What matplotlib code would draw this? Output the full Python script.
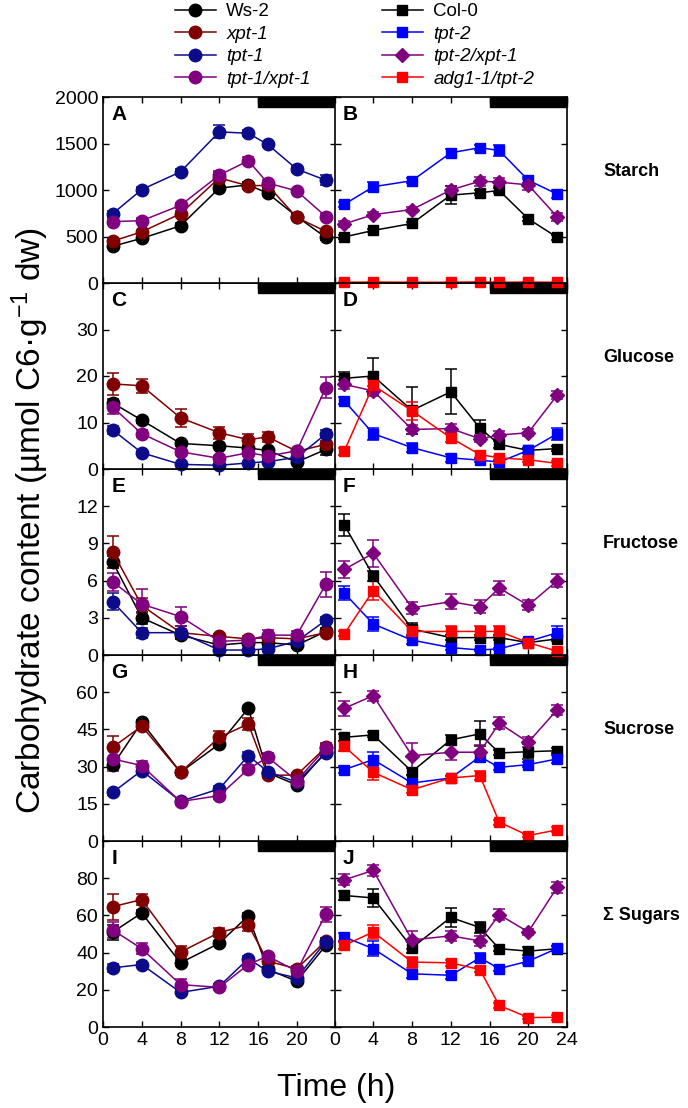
import matplotlib
matplotlib.use("Agg")
import matplotlib.pyplot as plt
from matplotlib.patches import Rectangle
from matplotlib.transforms import blended_transform_factory

plt.rcParams['font.family'] = ['Liberation Sans', 'DejaVu Sans']
plt.rcParams['mathtext.fontset'] = 'custom'
plt.rcParams['mathtext.rm'] = 'Liberation Sans'
plt.rcParams['mathtext.it'] = 'Liberation Sans:italic'

# sampling times (h) and the dark period
hours = [1, 4, 8, 12, 15, 17, 20, 23]
dark = (16, 24)

left_lines = ["Ws-2", "xpt-1", "tpt-1", "tpt-1/xpt-1"]
right_lines = ["Col-0", "tpt-2", "tpt-2/xpt-1", "adg1-1/tpt-2"]

# starch (A, B)
starch_left = {
    "Ws-2":        [395, 480, 615, 1020, 1055, 965, 715, 490],
    "xpt-1":       [450, 550, 745, 1130, 1045, 1050, 705, 555],
    "tpt-1":       [745, 1005, 1195, 1625, 1610, 1490, 1225, 1105],
    "tpt-1/xpt-1": [660, 670, 835, 1160, 1315, 1075, 990, 715],
}
starch_left_err = {
    "Ws-2":        [20, 20, 25, 40, 30, 30, 25, 25],
    "xpt-1":       [25, 25, 30, 60, 30, 40, 30, 30],
    "tpt-1":       [30, 30, 30, 70, 30, 30, 30, 55],
    "tpt-1/xpt-1": [30, 25, 30, 40, 40, 30, 25, 30],
}
starch_right = {
    "Col-0":        [495, 565, 640, 945, 970, 995, 690, 490],
    "tpt-2":        [845, 1035, 1100, 1400, 1455, 1425, 1105, 955],
    "tpt-2/xpt-1":  [635, 735, 790, 1000, 1095, 1085, 1055, 710],
    "adg1-1/tpt-2": [8, 10, 8, 8, 12, 8, 10, 8],
}
starch_right_err = {
    "Col-0":        [20, 20, 20, 100, 25, 25, 20, 25],
    "tpt-2":        [30, 50, 30, 40, 30, 55, 30, 40],
    "tpt-2/xpt-1":  [30, 30, 30, 40, 50, 40, 60, 40],
    "adg1-1/tpt-2": [3, 3, 3, 3, 3, 3, 3, 3],
}

# glucose (C, D)
glucose_left = {
    "Ws-2":        [14.2, 10.5, 5.5, 5.0, 4.5, 4.0, 1.5, 4.2],
    "xpt-1":       [18.3, 17.9, 11.0, 7.8, 6.3, 6.9, 3.8, 5.3],
    "tpt-1":       [8.4, 3.5, 1.0, 0.8, 1.3, 1.6, 2.5, 7.5],
    "tpt-1/xpt-1": [13.3, 7.6, 3.7, 2.3, 3.5, 2.8, 3.9, 17.5],
}
glucose_left_err = {
    "Ws-2":        [0.8, 0.6, 0.5, 0.5, 0.5, 0.5, 0.4, 1.2],
    "xpt-1":       [2.3, 1.5, 2.0, 1.3, 1.2, 1.0, 0.5, 0.8],
    "tpt-1":       [0.9, 0.4, 0.3, 0.3, 0.3, 0.3, 0.4, 0.8],
    "tpt-1/xpt-1": [1.5, 0.8, 0.6, 0.5, 0.6, 0.5, 0.5, 2.2],
}
glucose_right = {
    "Col-0":        [19.5, 20.0, 12.6, 16.6, 8.8, 5.3, 4.0, 4.4],
    "tpt-2":        [14.7, 7.6, 4.6, 2.4, 1.9, 1.5, 4.0, 7.6],
    "tpt-2/xpt-1":  [18.2, 16.8, 8.5, 8.7, 6.5, 7.3, 7.8, 15.9],
    "adg1-1/tpt-2": [3.8, 18.0, 12.5, 6.7, 3.1, 2.4, 2.0, 1.2],
}
glucose_right_err = {
    "Col-0":        [1.3, 3.8, 5.0, 4.8, 1.8, 0.8, 0.5, 0.6],
    "tpt-2":        [0.8, 1.3, 1.0, 0.8, 0.5, 0.5, 0.6, 1.3],
    "tpt-2/xpt-1":  [1.0, 1.0, 1.0, 1.0, 0.8, 0.9, 0.8, 0.8],
    "adg1-1/tpt-2": [0.8, 1.5, 2.0, 1.0, 0.8, 0.5, 0.5, 0.5],
}

# fructose (E, F)
fructose_left = {
    "Ws-2":        [7.5, 3.0, 1.6, 0.8, 1.0, 1.0, 0.8, 1.9],
    "xpt-1":       [8.3, 4.0, 1.8, 1.5, 1.3, 1.4, 1.3, 1.8],
    "tpt-1":       [4.3, 1.8, 1.8, 0.4, 0.4, 0.5, 1.1, 2.8],
    "tpt-1/xpt-1": [5.9, 4.1, 3.1, 1.1, 1.2, 1.6, 1.6, 5.7],
}
fructose_left_err = {
    "Ws-2":        [0.5, 0.5, 0.3, 0.2, 0.2, 0.2, 0.2, 0.3],
    "xpt-1":       [1.3, 0.6, 0.3, 0.2, 0.2, 0.3, 0.2, 0.2],
    "tpt-1":       [0.7, 0.4, 0.5, 0.1, 0.1, 0.1, 0.2, 0.3],
    "tpt-1/xpt-1": [0.7, 1.2, 0.8, 0.2, 0.2, 0.4, 0.3, 1.0],
}
fructose_right = {
    "Col-0":        [10.5, 6.4, 2.1, 1.4, 1.4, 1.4, 1.0, 1.3],
    "tpt-2":        [5.0, 2.5, 1.2, 0.6, 0.4, 0.5, 1.1, 1.8],
    "tpt-2/xpt-1":  [6.9, 8.2, 3.8, 4.3, 3.9, 5.4, 4.0, 6.0],
    "adg1-1/tpt-2": [1.7, 5.2, 1.9, 1.9, 1.9, 1.9, 1.0, 0.3],
}
fructose_right_err = {
    "Col-0":        [0.9, 0.4, 0.5, 0.2, 0.2, 0.2, 0.2, 0.2],
    "tpt-2":        [0.6, 0.6, 0.3, 0.2, 0.1, 0.1, 0.2, 0.5],
    "tpt-2/xpt-1":  [0.7, 1.1, 0.5, 0.6, 0.5, 0.6, 0.4, 0.5],
    "adg1-1/tpt-2": [0.2, 0.8, 0.4, 0.4, 0.4, 0.4, 0.2, 0.1],
}

# sucrose (G, H)
sucrose_left = {
    "Ws-2":        [30.5, 47.9, 27.7, 39.1, 53.5, 27.5, 22.6, 36.0],
    "xpt-1":       [37.8, 46.3, 27.7, 41.8, 47.2, 26.5, 26.6, 37.8],
    "tpt-1":       [19.6, 28.4, 16.0, 21.0, 34.4, 28.0, 23.7, 35.4],
    "tpt-1/xpt-1": [33.1, 30.4, 15.9, 18.3, 29.0, 33.8, 24.3, 37.4],
}
sucrose_left_err = {
    "Ws-2":        [1.5, 1.0, 1.0, 1.5, 1.0, 1.0, 1.0, 1.0],
    "xpt-1":       [4.5, 1.5, 1.0, 2.5, 2.5, 1.0, 1.0, 1.5],
    "tpt-1":       [1.0, 1.0, 1.0, 1.0, 1.5, 1.0, 1.0, 1.0],
    "tpt-1/xpt-1": [5.0, 2.0, 1.5, 1.5, 1.5, 1.5, 1.0, 2.0],
}
sucrose_right = {
    "Col-0":        [41.8, 42.8, 28.0, 40.8, 43.2, 35.5, 36.0, 36.4],
    "tpt-2":        [28.8, 32.8, 23.4, 25.4, 34.0, 29.7, 30.8, 33.1],
    "tpt-2/xpt-1":  [53.5, 58.6, 34.4, 35.8, 35.8, 47.5, 39.8, 53.0],
    "adg1-1/tpt-2": [38.2, 27.7, 20.7, 25.4, 26.4, 7.6, 2.2, 4.5],
}
sucrose_right_err = {
    "Col-0":        [1.5, 1.0, 1.5, 2.0, 5.0, 1.0, 3.0, 1.0],
    "tpt-2":        [1.5, 3.0, 1.0, 1.0, 2.0, 1.0, 1.0, 1.5],
    "tpt-2/xpt-1":  [3.0, 2.0, 5.0, 3.0, 3.0, 2.5, 2.0, 2.0],
    "adg1-1/tpt-2": [2.0, 3.0, 1.5, 1.0, 2.0, 1.0, 0.5, 1.0],
}

# sum of sugars (I, J)
sugars_left = {
    "Ws-2":        [51.0, 61.3, 34.5, 45.0, 59.8, 31.0, 24.6, 43.9],
    "xpt-1":       [64.7, 68.5, 40.3, 50.8, 54.8, 35.4, 31.3, 46.3],
    "tpt-1":       [31.8, 33.6, 18.6, 21.9, 36.7, 30.0, 26.4, 45.9],
    "tpt-1/xpt-1": [52.2, 42.1, 22.8, 21.3, 33.6, 38.1, 30.0, 60.7],
}
sugars_left_err = {
    "Ws-2":        [4.0, 1.5, 1.5, 1.5, 1.5, 1.0, 1.0, 1.0],
    "xpt-1":       [7.0, 3.0, 3.0, 2.5, 3.0, 1.5, 1.5, 1.5],
    "tpt-1":       [2.0, 1.5, 1.0, 1.0, 1.5, 1.0, 1.0, 2.0],
    "tpt-1/xpt-1": [4.5, 3.0, 3.0, 1.5, 2.0, 1.5, 1.5, 4.0],
}
sugars_right = {
    "Col-0":        [70.7, 69.4, 42.6, 58.9, 53.5, 42.1, 40.8, 42.1],
    "tpt-2":        [48.4, 42.1, 28.6, 27.8, 37.2, 31.4, 35.4, 42.3],
    "tpt-2/xpt-1":  [79.1, 84.2, 46.8, 49.0, 46.3, 60.4, 51.1, 75.2],
    "adg1-1/tpt-2": [43.9, 51.1, 34.9, 34.5, 30.9, 11.6, 5.1, 5.2],
}
sugars_right_err = {
    "Col-0":        [2.5, 5.0, 3.0, 5.0, 3.0, 1.5, 2.0, 1.5],
    "tpt-2":        [2.0, 4.0, 2.0, 2.0, 2.5, 1.5, 1.5, 1.5],
    "tpt-2/xpt-1":  [3.0, 3.0, 5.0, 2.5, 2.5, 3.0, 1.5, 3.0],
    "adg1-1/tpt-2": [2.0, 4.0, 3.0, 1.5, 1.5, 1.5, 1.0, 1.5],
}

row_names = ["Starch", "Glucose", "Fructose", "Sucrose", "\u03a3 Sugars"]
row_ymax = [2000, 40, 15, 75, 100]
row_yticks = [[0, 500, 1000, 1500, 2000], [0, 10, 20, 30], [0, 3, 6, 9, 12],
              [0, 15, 30, 45, 60], [0, 20, 40, 60, 80]]
letters = ["A", "B", "C", "D", "E", "F", "G", "H", "I", "J"]

rows = [
    (starch_left, starch_left_err, starch_right, starch_right_err),
    (glucose_left, glucose_left_err, glucose_right, glucose_right_err),
    (fructose_left, fructose_left_err, fructose_right, fructose_right_err),
    (sucrose_left, sucrose_left_err, sucrose_right, sucrose_right_err),
    (sugars_left, sugars_left_err, sugars_right, sugars_right_err),
]

style = {
    "Ws-2":         ("black", "o", 9),
    "xpt-1":        ("#800000", "o", 9),
    "tpt-1":        ("#0c0c8a", "o", 9),
    "tpt-1/xpt-1":  ("#800080", "o", 9),
    "Col-0":        ("black", "s", 7),
    "tpt-2":        ("#0000ff", "s", 7),
    "tpt-2/xpt-1":  ("#800080", "D", 7),
    "adg1-1/tpt-2": ("#ff0000", "s", 7),
}

fig = plt.figure(figsize=(6.88, 11.08), dpi=100)

W, H = 688.0, 1108.0
top_px, row_px = 97.0, 186.0
lefts = [103.0 / W, 334.5 / W]
width = 232.5 / W

handles = {}
for r, (lmean, lerr, rmean, rerr) in enumerate(rows):
    bottom = 1 - (top_px + row_px * (r + 1)) / H
    for c in range(2):
        ax = fig.add_axes([lefts[c], bottom, width, row_px / H])
        ax.set_zorder(10 - r)
        means = lmean if c == 0 else rmean
        errs = lerr if c == 0 else rerr
        for name in means:
            col, mk, ms = style[name]
            cont = ax.errorbar(hours, means[name], yerr=errs[name], color=col,
                               marker=mk, markersize=ms, lw=1.1, capsize=4,
                               elinewidth=1.1, capthick=1.1, clip_on=False)
            handles[name] = cont[0]
        ax.set_xlim(0, 24)
        ax.set_ylim(0, row_ymax[r])
        ax.set_xticks(range(0, 25, 4))
        ax.set_yticks(row_yticks[r])
        ax.tick_params(direction="in", top=True, right=True, length=4,
                       width=1, labelsize=14)
        for sp in ax.spines.values():
            sp.set_linewidth(1.2)
        if c == 1:
            ax.set_yticklabels([])
        if r < 4:
            ax.set_xticklabels([])
        elif c == 0:
            ax.set_xticklabels(["0", "4", "8", "12", "16", "20", ""])
        tr = blended_transform_factory(ax.transData, ax.transAxes)
        ax.add_patch(Rectangle((dark[0], 0.945), dark[1] - dark[0], 0.055,
                               transform=tr, color="black", zorder=5,
                               clip_on=False))
        ax.text(0.035, 0.955, letters[2 * r + c], transform=ax.transAxes,
                fontsize=15, fontweight="bold", va="top", ha="left")
        if c == 1:
            ax.text(1.155, 0.6, row_names[r], transform=ax.transAxes,
                    fontsize=13, fontweight="bold", va="center", ha="left")

for names, x0 in [(left_lines, 0.254), (right_lines, 0.555)]:
    leg = fig.legend([handles[n] for n in names], names, loc="upper left",
                     bbox_to_anchor=(x0, 0.997), frameon=False, fontsize=13.5,
                     handlelength=2.2, handletextpad=0.55, labelspacing=0.28,
                     borderpad=0, borderaxespad=0)
    for txt in leg.get_texts():
        if txt.get_text() not in ("Ws-2", "Col-0"):
            txt.set_style("italic")

fig.text(0.044, 0.53, "Carbohydrate content (\u00b5mol C6\u00b7g$^{-1}$ dw)",
         rotation=90, fontsize=24, ha="center", va="center")
fig.text(0.488, 0.018, "Time (h)", fontsize=23, ha="center", va="center")

fig.savefig("out.png", dpi=100)
